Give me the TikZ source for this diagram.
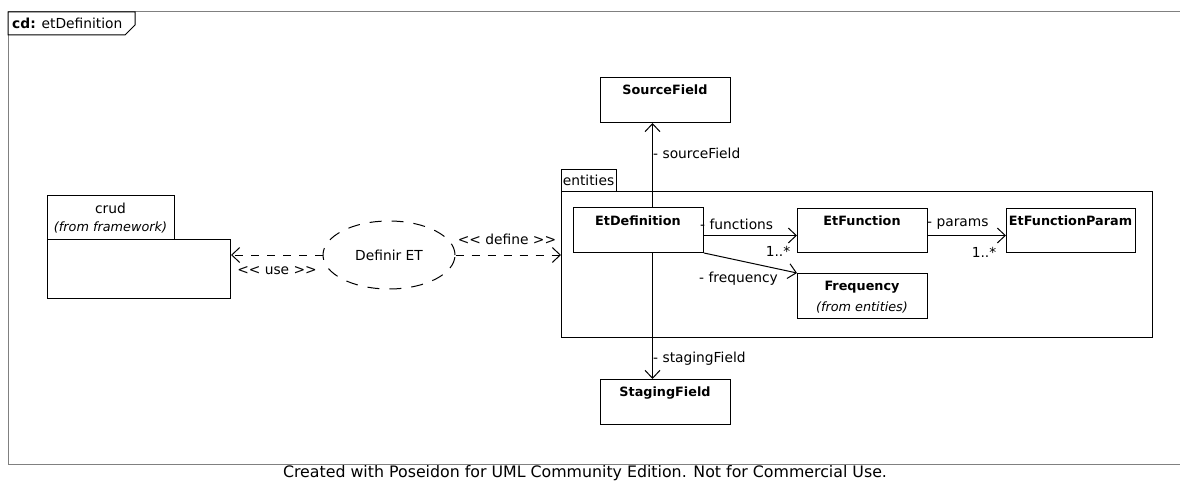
\documentclass[tikz,border=0pt]{standalone}
\usepackage{fontspec}
\setmainfont{DejaVu Sans}
\usetikzlibrary{arrows.meta,shapes.geometric}

\tikzset{
  box/.style={draw, line width=1pt, fill=white, inner sep=0pt, anchor=north west},
  title/.style={font=\bfseries\fontsize{12.8}{14}\selectfont, inner sep=0pt},
  lbl/.style={font=\fontsize{13.8}{15}\selectfont, inner sep=0pt},
  note/.style={font=\itshape\fontsize{12.8}{14}\selectfont, inner sep=0pt},
  assoc/.style={line width=1pt, -{Straight Barb[length=8pt,width=15pt,line width=1pt]}},
  dep/.style={assoc, dash pattern=on 8pt off 8pt},
  usecase/.style={draw, ellipse, line width=1pt, dash pattern=on 12pt off 10pt,
    minimum width=132pt, minimum height=68pt, inner sep=0pt,
    font=\fontsize{13.8}{15}\selectfont},
}

\begin{document}
\begin{tikzpicture}[x=1pt,y=-1pt]
\useasboundingbox (0,0) rectangle (1180,481);

% diagram frame and its name tab
\draw[black!50, line width=1pt] (1181,12) -- (8,12) -- (8,464) -- (1181,464);
\draw[line width=1pt, fill=white] (8,12) -- (135,12) -- (135,25) -- (125,35) -- (8,35) -- cycle;
\node[lbl, anchor=west] (frametitle) at (12,23.5) {\textbf{cd:} etDefinition};

% package crud
\node[box, minimum width=127pt, minimum height=44pt] (crudtab) at (47,195) {};
\node[box, minimum width=183pt, minimum height=59pt] (crud) at (47,239) {};
\node[lbl] (crudname) at (110.5,208) {crud};
\node[note] (crudfrom) at (110.5,227) {(from framework)};

% package entities
\node[box, minimum width=55pt, minimum height=22pt] (enttab) at (561,169) {};
\node[box, minimum width=591pt, minimum height=146pt] (ent) at (561,191) {};
\node[lbl] (entname) at (588.5,180) {entities};

% classes
\node[box, minimum width=130pt, minimum height=45pt] (src) at (600,77) {};
\node[title] (srct) at (665,90) {SourceField};
\node[box, minimum width=130pt, minimum height=45pt] (ed) at (573,207) {};
\node[title] (edt) at (638,221) {EtDefinition};
\node[box, minimum width=130pt, minimum height=44pt] (fn) at (797,208) {};
\node[title] (fnt) at (862,221) {EtFunction};
\node[box, minimum width=129pt, minimum height=44pt] (fp) at (1006,208) {};
\node[title] (fpt) at (1070.5,221) {EtFunctionParam};
\node[box, minimum width=130pt, minimum height=45pt] (freq) at (797,273) {};
\node[title] (freqt) at (862,287) {Frequency};
\node[note] (freqfrom) at (862,307) {(from entities)};
\node[box, minimum width=130pt, minimum height=45pt] (stg) at (600,379) {};
\node[title] (stgt) at (665,393) {StagingField};

% use case
\node[usecase] (uc) at (389,255) {Definir ET};

% dependencies
\draw[dep] (uc.west) -- (uc.west -| crud.east);
\node[lbl] (uselbl) at (277,271) {<\kern0pt< use >\kern0pt>};
\draw[dep] (uc.east) -- (uc.east -| ent.west);
\node[lbl] (deflbl) at (507,239) {<\kern0pt< define >\kern0pt>};

% associations
\draw[assoc] ([xshift=14pt]ed.north) -- ([xshift=14pt]ed.north |- src.south);
\node[lbl, anchor=west] (srclbl) at (653,153) {- sourceField};
\draw[assoc] ([xshift=14pt]ed.south) -- ([xshift=14pt]ed.south |- stg.north);
\node[lbl, anchor=west] (stglbl) at (653,359) {- stagingField};
\draw[assoc] ([yshift=-5.5pt]ed.east) -- ([yshift=-5.5pt]ed.east -| fn.west);
\node[lbl, anchor=west] (fnlbl) at (700,224) {- functions};
\node[lbl] (fnmul) at (778,251) {1..*};
\draw[assoc] ([yshift=-5pt]fn.east) -- ([yshift=-5pt]fn.east -| fp.west);
\node[lbl, anchor=west] (fplbl) at (927,224) {- params};
\node[lbl] (fpmul) at (984,252) {1..*};
\draw[assoc] (ed.south east) -- (freq.north west);
\node[lbl, anchor=west] (freqlbl) at (699,279) {- frequency};

% footer
\node[font=\fontsize{15.8}{18}\selectfont, inner sep=0pt] (footer) at (585,473)
  {Created with Poseidon for UML Community Edition. Not for Commercial Use.};
\end{tikzpicture}
\end{document}
